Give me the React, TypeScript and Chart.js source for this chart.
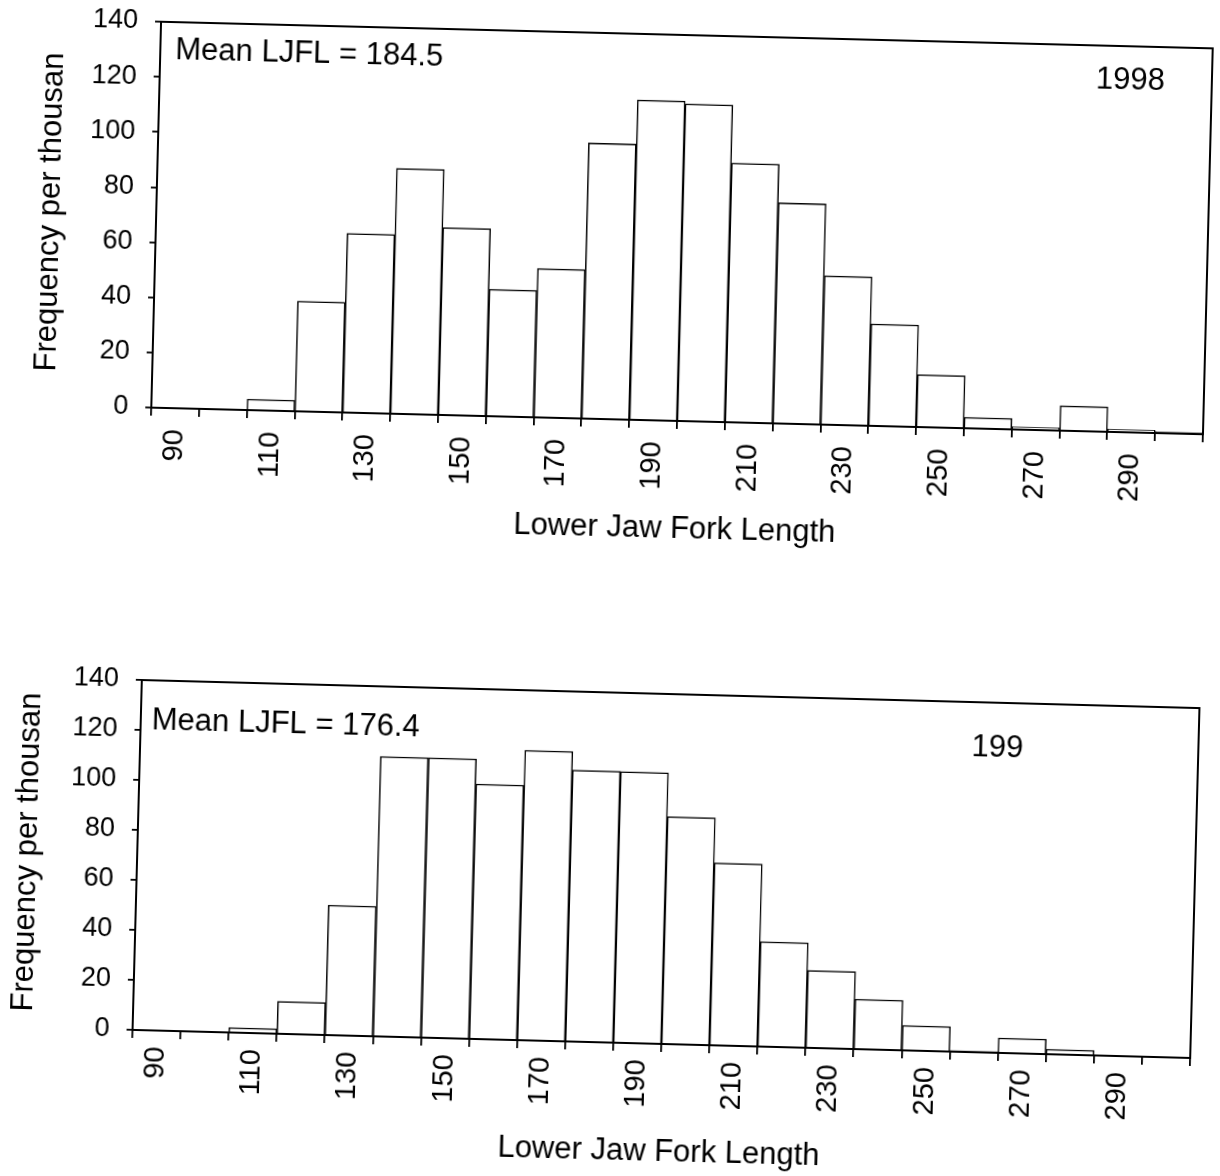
import React, { useEffect, useRef } from "react";
import { Chart, registerables } from "chart.js";

Chart.register(...registerables);

// ---- data ----
const lengthBins = ["90", "100", "110", "120", "130", "140", "150", "160", "170", "180", "190", "200", "210", "220", "230", "240", "250", "260", "270", "280", "290", "300"];
const shownTickLabels = ["90", "110", "130", "150", "170", "190", "210", "230", "250", "270", "290"];
const freq1998 = [0, 0, 4, 40, 65, 89, 68, 46, 54, 100, 116, 115, 94, 80, 54, 37, 19, 4, 1, 9, 1, 0.5];
const freq199x = [0, 0, 2, 13, 52, 112, 112, 102, 116, 108.6, 108.5, 91, 73, 42, 31, 20, 10, 0.5, 6, 2, 0, 0];
const yMin = 0;
const yMax = 140;
const yStep = 20;
const yAxisTitle = "Frequency per thousan";
const xAxisTitle = "Lower Jaw Fork Length";
const meanText1998 = "Mean LJFL = 184.5";
const yearText1998 = "1998";
const meanText199x = "Mean LJFL = 176.4";
const yearText199x = "199";

const FONT = "'Liberation Sans', Arial, Helvetica, sans-serif";

type PanelProps = {
  values: number[];
  meanText: string;
  yearText: string;
  canvasTop: number;
  canvasHeight: number;
  padTop: number;
  padRight: number;
  padBottom: number;
  yWidth: number;
  xHeight: number;
  yTitlePad: number;
  xTickPad: number;
  angle: number;
  originX: number;
  originY: number;
  meanDx: number;
  meanDy: number;
  yearDx: number;
  yearDy: number;
};

const framePlugin = {
  id: "frameAndNotes",
  afterDraw(chart: any, _args: any, opts: any) {
    const { ctx, chartArea } = chart;
    const { left, top, right, bottom } = chartArea;
    ctx.save();
    ctx.strokeStyle = "#000";
    ctx.lineWidth = 2;
    ctx.strokeRect(left, top, right - left, bottom - top);
    ctx.fillStyle = "#000";
    ctx.font = `31px ${FONT}`;
    ctx.textBaseline = "alphabetic";
    ctx.textAlign = "left";
    ctx.fillText(opts.meanText, left + opts.meanDx, top + opts.meanDy);
    ctx.textAlign = "right";
    ctx.fillText(opts.yearText, right - opts.yearDx, top + opts.yearDy);
    ctx.restore();
  },
};

function Panel(p: PanelProps) {
  const ref = useRef<HTMLCanvasElement | null>(null);
  useEffect(() => {
    if (!ref.current) return;
    const chart = new Chart(ref.current, {
      type: "bar",
      data: {
        labels: lengthBins,
        datasets: [
          {
            data: p.values,
            backgroundColor: "#ffffff",
            borderColor: "#000000",
            borderWidth: 1.5,
            barPercentage: 1,
            categoryPercentage: 1,
          },
        ],
      },
      plugins: [framePlugin],
      options: {
        animation: false,
        responsive: false,
        maintainAspectRatio: false,
        layout: { padding: { left: 0, top: p.padTop, right: p.padRight, bottom: p.padBottom } },
        plugins: {
          legend: { display: false },
          tooltip: { enabled: false },
          frameAndNotes: {
            meanText: p.meanText,
            yearText: p.yearText,
            meanDx: p.meanDx,
            meanDy: p.meanDy,
            yearDx: p.yearDx,
            yearDy: p.yearDy,
          },
        } as any,
        scales: {
          x: {
            type: "category",
            offset: true,
            grid: {
              offset: true,
              drawOnChartArea: false,
              drawTicks: true,
              tickLength: 8,
              color: "#000",
              lineWidth: 1.8,
            },
            border: { display: true, color: "#000", width: 2 },
            ticks: {
              autoSkip: false,
              maxRotation: 90,
              minRotation: 90,
              padding: p.xTickPad,
              color: "#000",
              font: { family: FONT, size: 29 },
              callback: (_v: any, i: number) =>
                shownTickLabels.includes(lengthBins[i]) ? lengthBins[i] : "",
            },
            title: {
              display: true,
              text: xAxisTitle,
              color: "#000",
              font: { family: FONT, size: 31 },
              padding: { top: 0, bottom: 4 },
            },
            afterFit: (s: any) => {
              s.height = p.xHeight;
              s.paddingLeft = 0;
              s.paddingRight = 0;
            },
          },
          y: {
            min: yMin,
            max: yMax,
            ticks: {
              stepSize: yStep,
              padding: 17,
              color: "#000",
              font: { family: FONT, size: 27 },
            },
            grid: {
              drawOnChartArea: false,
              drawTicks: true,
              tickLength: 6,
              color: "#000",
              lineWidth: 1.8,
            },
            border: { display: true, color: "#000", width: 2 },
            title: {
              display: true,
              text: yAxisTitle,
              color: "#000",
              font: { family: FONT, size: 31 },
              padding: { top: p.yTitlePad, bottom: 0 },
            },
            afterFit: (s: any) => {
              s.width = p.yWidth;
              s.paddingTop = 0;
              s.paddingBottom = 0;
            },
          },
        },
      } as any,
    });
    return () => chart.destroy();
  }, []);

  return (
    <div
      style={{
        position: "absolute",
        left: 0,
        top: p.canvasTop,
        width: 1220,
        height: p.canvasHeight,
        transform: `rotate(${p.angle}deg)`,
        transformOrigin: `${p.originX}px ${p.originY}px`,
      }}
    >
      <canvas
        ref={ref}
        width={1220}
        height={p.canvasHeight}
        style={{ display: "block", width: 1220, height: p.canvasHeight }}
      />
    </div>
  );
}

export default function App() {
  return (
    <div style={{ position: "absolute", left: 0, top: 0, width: 1220, height: 1176, background: "#fff", overflow: "hidden" }}>
      <Panel
        values={freq1998}
        meanText={meanText1998}
        yearText={yearText1998}
        canvasTop={0}
        canvasHeight={560}
        padTop={35}
        padRight={12}
        padBottom={8}
        yWidth={156}
        xHeight={131}
        yTitlePad={32}
        xTickPad={13}
        angle={1.45}
        originX={682}
        originY={228}
        meanDx={15}
        meanDy={37}
        yearDx={47}
        yearDy={43}
      />
      <Panel
        values={freq199x}
        meanText={meanText199x}
        yearText={yearText199x}
        canvasTop={600}
        canvasHeight={576}
        padTop={94}
        padRight={25}
        padBottom={1}
        yWidth={137}
        xHeight={131}
        yTitlePad={9}
        xTickPad={8}
        angle={1.52}
        originX={666}
        originY={269}
        meanDx={11}
        meanDy={49}
        yearDx={175}
        yearDy={54}
      />
    </div>
  );
}
